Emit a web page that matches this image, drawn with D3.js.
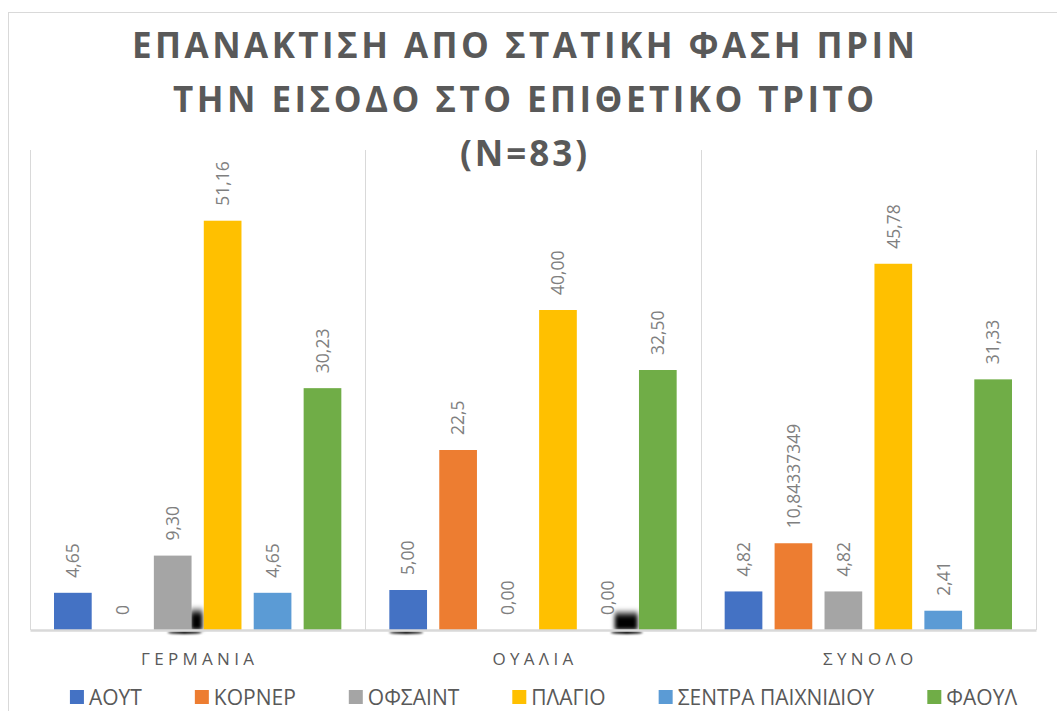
<!DOCTYPE html>
<html>
<head>
<meta charset="utf-8">
<script src="https://cdn.jsdelivr.net/npm/d3@7"></script>
<style>
  html, body { margin: 0; padding: 0; background: #fff; }
  svg { display: block; }
</style>
</head>
<body>
<svg id="chart" width="1057" height="711"></svg>
<script>
// ---- data ----
const categories = ["ΓΕΡΜΑΝΙΑ", "ΟΥΑΛΙΑ", "ΣΥΝΟΛΟ"];
const series = ["ΑΟΥΤ", "ΚΟΡΝΕΡ", "ΟΦΣΑΙΝΤ", "ΠΛΑΓΙΟ", "ΣΕΝΤΡΑ ΠΑΙΧΝΙΔΙΟΥ", "ΦΑΟΥΛ"];
const colors = ["#4472C4", "#ED7D31", "#A5A5A5", "#FFC000", "#5B9BD5", "#70AD47"];
const germanyValues = [4.65, 0, 9.30, 51.16, 4.65, 30.23];
const walesValues = [5.00, 22.5, 0.00, 40.00, 0.00, 32.50];
const totalValues = [4.82, 10.84337349, 4.82, 45.78, 2.41, 31.33];
const germanyLabels = ["4,65", "0", "9,30", "51,16", "4,65", "30,23"];
const walesLabels = ["5,00", "22,5", "0,00", "40,00", "0,00", "32,50"];
const totalLabels = ["4,82", "10,84337349", "4,82", "45,78", "2,41", "31,33"];
const yDomain = [0, 60];
const titleLines = ["ΕΠΑΝΑΚΤΙΣΗ ΑΠΟ ΣΤΑΤΙΚΗ ΦΑΣΗ ΠΡΙΝ", "ΤΗΝ ΕΙΣΟΔΟ ΣΤΟ ΕΠΙΘΕΤΙΚΟ ΤΡΙΤΟ", "(N=83)"];

const valuesByCat = [germanyValues, walesValues, totalValues];
const labelsByCat = [germanyLabels, walesLabels, totalLabels];
const rows = [];
categories.forEach((c, ci) => series.forEach((s, si) => rows.push({
  cat: c, ser: s, value: valuesByCat[ci][si], label: labelsByCat[ci][si], color: colors[si]
})));

const svg = d3.select("#chart");
const plot = { left: 30, right: 1036, top: 150, bottom: 630 };

// outer chart border
svg.append("rect").attr("x", 8.5).attr("y", 12.5).attr("width", 1100).attr("height", 800)
  .attr("fill", "none").attr("stroke", "#d9d9d9").attr("stroke-width", 1);

const x0 = d3.scaleBand().domain(categories).range([plot.left, plot.right]).padding(0);
const x1 = d3.scaleBand().domain(series).range([24, x0.bandwidth() - 24]).paddingInner(0.245).paddingOuter(0);
const y = d3.scaleLinear().domain(yDomain).range([plot.bottom, plot.top]);

// category separators
const seps = categories.map(c => x0(c)).concat([x0.range()[1]]);
svg.append("g").selectAll("line").data(seps).join("line")
  .attr("x1", d => Math.round(d) + 0.5).attr("x2", d => Math.round(d) + 0.5)
  .attr("y1", plot.top).attr("y2", plot.bottom)
  .attr("stroke", "#d9d9d9").attr("stroke-width", 1);

// shadow artefacts
const defs = svg.append("defs");
const f = defs.append("filter").attr("id", "blur").attr("x", "-50%").attr("y", "-50%").attr("width", "200%").attr("height", "200%");
f.append("feGaussianBlur").attr("stdDeviation", 2.2);
const fs = defs.append("filter").attr("id", "blur2").attr("x", "-50%").attr("y", "-50%").attr("width", "200%").attr("height", "200%");
fs.append("feGaussianBlur").attr("stdDeviation", 1.2);
const grad = defs.append("linearGradient").attr("id", "fadeUp").attr("x1", 0).attr("y1", 1).attr("x2", 0).attr("y2", 0);
grad.append("stop").attr("offset", "0%").attr("stop-color", "#000");
grad.append("stop").attr("offset", "60%").attr("stop-color", "#000");
grad.append("stop").attr("offset", "100%").attr("stop-color", "#000").attr("stop-opacity", 0);

const g1 = x0("ΓΕΡΜΑΝΙΑ"), g2 = x0("ΟΥΑΛΙΑ");
const bw = x1.bandwidth();
const art = svg.append("g");
art.append("rect").attr("x", g1 + x1("ΟΦΣΑΙΝΤ") + bw - 1).attr("y", y(0) - 24)
  .attr("width", 12).attr("height", 24).attr("fill", "url(#fadeUp)").attr("filter", "url(#blur)");
art.append("ellipse").attr("cx", g1 + x1("ΟΦΣΑΙΝΤ") + bw - 7).attr("cy", y(0) + 2.5)
  .attr("rx", 17).attr("ry", 1.5).attr("fill", "#000").attr("filter", "url(#blur2)");
art.append("ellipse").attr("cx", g2 + x1("ΑΟΥΤ") + bw / 2 - 2).attr("cy", y(0) + 2.5)
  .attr("rx", 17).attr("ry", 1.5).attr("fill", "#000").attr("filter", "url(#blur2)");
art.append("rect").attr("x", g2 + x1("ΣΕΝΤΡΑ ΠΑΙΧΝΙΔΙΟΥ") + bw - 12).attr("y", y(0) - 21)
  .attr("width", 23).attr("height", 21).attr("fill", "url(#fadeUp)").attr("filter", "url(#blur)");
art.append("ellipse").attr("cx", g2 + x1("ΣΕΝΤΡΑ ΠΑΙΧΝΙΔΙΟΥ") + bw).attr("cy", y(0) + 2.5)
  .attr("rx", 16).attr("ry", 1.5).attr("fill", "#000").attr("filter", "url(#blur2)");

// bars
svg.append("g").selectAll("rect").data(rows).join("rect")
  .attr("x", d => x0(d.cat) + x1(d.ser))
  .attr("y", d => y(d.value))
  .attr("width", bw)
  .attr("height", d => y(0) - y(d.value))
  .attr("fill", d => d.color);

// baseline axis
const xAxis = d3.axisBottom(x0).tickSize(0).tickFormat("");
const axG = svg.append("g").attr("transform", `translate(0,${plot.bottom})`).call(xAxis);
axG.select(".domain").attr("stroke", "#d9d9d9").attr("stroke-width", 2.5);

// category labels
svg.append("g").selectAll("text").data(categories).join("text")
  .attr("x", d => x0(d) + x0.bandwidth() / 2 + 2)
  .attr("y", 665)
  .attr("text-anchor", "middle")
  .attr("font-family", "'Open Sans', sans-serif")
  .attr("font-size", 17)
  .attr("letter-spacing", "4.3px")
  .attr("fill", "#595959")
  .text(d => d);

// data labels (rotated)
svg.append("g").selectAll("text").data(rows).join("text")
  .attr("transform", d => `translate(${x0(d.cat) + x1(d.ser) + bw / 2},${y(d.value) - 15}) rotate(-90)`)
  .attr("dy", "0.36em")
  .attr("text-anchor", "start")
  .attr("font-family", "'Open Sans', sans-serif")
  .attr("font-size", 17.5)
  .attr("fill", "#7f7f7f")
  .text(d => d.label);

// title
const titleY = [58, 112, 166];
const titleW = [786, 704, null];
svg.append("g").selectAll("text").data(titleLines).join("text")
  .attr("x", 525)
  .attr("y", (d, i) => titleY[i])
  .attr("text-anchor", "middle")
  .attr("font-family", "'Open Sans', sans-serif")
  .attr("font-weight", "bold")
  .attr("font-size", 35)
  .attr("letter-spacing", "3px")
  .attr("fill", "#595959")
  .each(function (d, i) {
    if (titleW[i]) d3.select(this).attr("textLength", titleW[i]).attr("lengthAdjust", "spacing");
  })
  .text(d => d);

// legend
const leg = svg.append("g");
const items = leg.selectAll("g").data(series).join("g");
items.append("rect").attr("width", 14).attr("height", 14).attr("y", 690).attr("fill", (d, i) => colors[i]);
items.append("text").attr("x", 19).attr("y", 705)
  .attr("font-family", "'Open Sans', sans-serif").attr("font-size", 21).attr("fill", "#595959")
  .text(d => d);
let widths = [];
items.each(function () { widths.push(19 + d3.select(this).select("text").node().getComputedTextLength()); });
const gap = 53;
const total = d3.sum(widths) + gap * (widths.length - 1);
let cx = 543.5 - total / 2;
items.attr("transform", (d, i) => { const t = `translate(${cx},0)`; cx += widths[i] + gap; return t; });
</script>
</body>
</html>
